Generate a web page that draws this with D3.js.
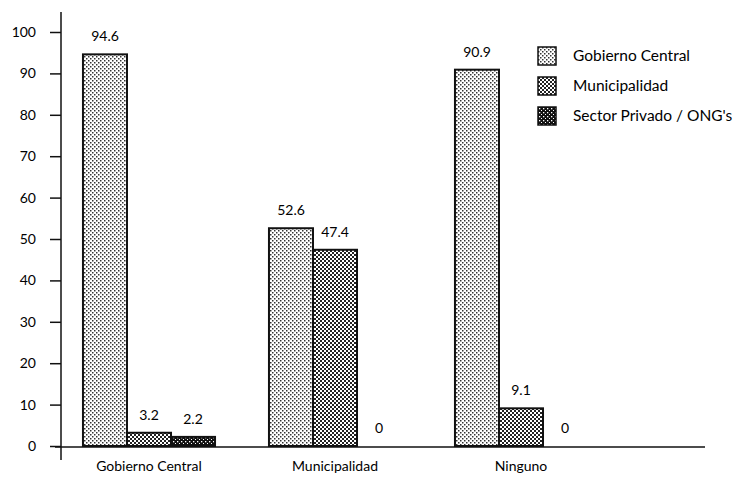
<!DOCTYPE html>
<meta charset="utf-8">
<head>
    <title>Gobierno Central / Municipalidad / Ninguno</title>
    <script src="https://d3js.org/d3.v7.min.js"></script>
</head>
<style>
    body { margin: 0; background: #fff; }
    text { font-family: Lato, "Open Sans", sans-serif; fill: #000; }
    .axis path, .axis line { stroke: #111; stroke-width: 1.5px; }
    rect.bar { stroke: #111; stroke-width: 2px; }
</style>
<body>
<script>
    // data
    var categories = ["Gobierno Central", "Municipalidad", "Ninguno"];
    var seriesNames = ["Gobierno Central", "Municipalidad", "Sector Privado / ONG's"];
    var gobiernoCentral = [94.6, 52.6, 90.9];
    var municipalidad = [3.2, 47.4, 9.1];
    var sectorPrivado = [2.2, 0, 0];
    var labels = [["94.6", "52.6", "90.9"], ["3.2", "47.4", "9.1"], ["2.2", "0", "0"]];
    var yTicks = [0, 10, 20, 30, 40, 50, 60, 70, 80, 90, 100];

    var series = [gobiernoCentral, municipalidad, sectorPrivado];

    var width = 752, height = 479;
    var svg = d3.select("body").append("svg")
        .attr("width", width)
        .attr("height", height);

    // stipple fills
    var defs = svg.append("defs");
    var p0 = defs.append("pattern").attr("id", "pat0").attr("patternUnits", "userSpaceOnUse")
        .attr("width", 4).attr("height", 4);
    p0.append("rect").attr("width", 4).attr("height", 4).attr("fill", "#fff");
    p0.append("rect").attr("x", 0).attr("y", 0).attr("width", 1.5).attr("height", 1.5).attr("fill", "#333");
    p0.append("rect").attr("x", 2).attr("y", 2).attr("width", 1.5).attr("height", 1.5).attr("fill", "#333");

    var p1 = defs.append("pattern").attr("id", "pat1").attr("patternUnits", "userSpaceOnUse")
        .attr("width", 4).attr("height", 4);
    p1.append("rect").attr("width", 4).attr("height", 4).attr("fill", "#fff");
    p1.append("rect").attr("x", 0).attr("y", 0).attr("width", 2).attr("height", 2).attr("fill", "#222");
    p1.append("rect").attr("x", 2).attr("y", 2).attr("width", 2).attr("height", 2).attr("fill", "#222");

    var p2 = defs.append("pattern").attr("id", "pat2").attr("patternUnits", "userSpaceOnUse")
        .attr("width", 4).attr("height", 4);
    p2.append("rect").attr("width", 4).attr("height", 4).attr("fill", "#111");
    p2.append("rect").attr("x", 1).attr("y", 1).attr("width", 1.3).attr("height", 1.3).attr("fill", "#fff");
    p2.append("rect").attr("x", 3).attr("y", 3).attr("width", 1.3).attr("height", 1.3).attr("fill", "#fff");

    var y = d3.scaleLinear().domain([0, 100]).range([446, 32]);
    var x = d3.scaleBand().domain(categories).range([56, 614]).paddingInner(0.29).paddingOuter(0.145);
    var xs = d3.scaleBand().domain([0, 1, 2]).range([0, x.bandwidth()]);

    // y axis
    var yAxis = svg.append("g").attr("class", "axis").attr("transform", "translate(61,0)")
        .call(d3.axisLeft(y).tickValues(yTicks).tickSize(11).tickPadding(14));
    yAxis.select(".domain").remove();
    yAxis.selectAll("text").style("font-size", "14px");
    svg.append("line").attr("x1", 61).attr("x2", 61).attr("y1", 12).attr("y2", 460)
        .attr("stroke", "#111").attr("stroke-width", 1.5);

    // bars
    series.forEach(function (vals, si) {
        svg.selectAll(".b" + si)
            .data(vals)
            .enter().append("rect")
            .attr("class", "bar b" + si)
            .attr("x", function (d, i) { return x(categories[i]) + xs(si); })
            .attr("y", function (d) { return y(d); })
            .attr("width", xs.bandwidth())
            .attr("height", function (d) { return y(0) - y(d); })
            .attr("fill", "url(#pat" + si + ")")
            .style("display", function (d) { return d > 0 ? null : "none"; });

        svg.selectAll(".l" + si)
            .data(vals)
            .enter().append("text")
            .attr("x", function (d, i) { return x(categories[i]) + xs(si) + xs.bandwidth() / 2; })
            .attr("y", function (d) { return y(d) - 13; })
            .attr("text-anchor", "middle")
            .style("font-size", "14px")
            .text(function (d, i) { return labels[si][i]; });
    });

    // x axis
    svg.append("line").attr("x1", 55).attr("x2", 705).attr("y1", 447).attr("y2", 447)
        .attr("stroke", "#111").attr("stroke-width", 1.5);
    svg.selectAll(".cat")
        .data(categories)
        .enter().append("text")
        .attr("x", function (d) { return x(d) + x.bandwidth() / 2; })
        .attr("y", 471)
        .attr("text-anchor", "middle")
        .style("font-size", "14px")
        .text(function (d) { return d; });

    // legend
    var legend = svg.selectAll(".leg")
        .data(seriesNames)
        .enter().append("g")
        .attr("transform", function (d, i) { return "translate(538," + (47 + i * 30) + ")"; });
    legend.append("rect")
        .attr("width", 18).attr("height", 18)
        .attr("fill", function (d, i) { return "url(#pat" + i + ")"; })
        .attr("stroke", "#111").attr("stroke-width", 1.5);
    legend.append("text")
        .attr("x", 35).attr("y", 14)
        .style("font-size", "15.5px")
        .text(function (d) { return d; });
</script>
</body>
</html>
